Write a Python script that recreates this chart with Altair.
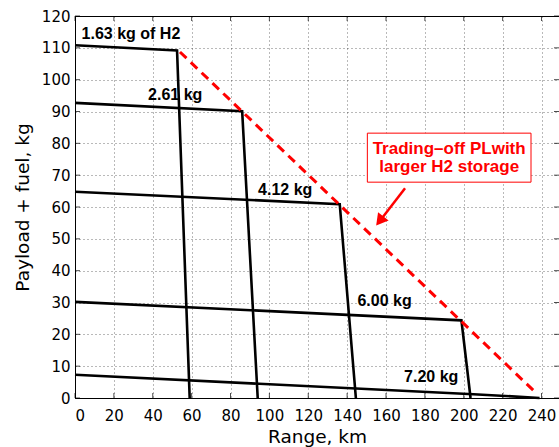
import altair as alt
import pandas as pd

# ---- data ----
curve_names = ["1.63", "2.61", "4.12", "6.00", "7.20"]
curve_x = [[0, 52.5, 59], [0, 86, 94], [0, 136.2, 144.5], [0, 198.8, 203.5], [0, 205, 239]]
curve_y = [[110.8, 109.2, 0], [92.7, 90.1, 0], [64.8, 60.9, 0], [30.2, 24.4, 0], [7.3, 1.2, 0]]

trade_x = [54, 237]
trade_y = [108.7, 1.7]

label_text = ["1.63 kg of H2", "2.61 kg", "4.12 kg", "6.00 kg", "7.20 kg"]
label_x = [3.4, 37.6, 94.2, 145.3, 169.3]
label_y = [114.5, 95.1, 65.3, 30.5, 6.6]

box_x = [150.4, 234.6]
box_y = [67.8, 83.2]
note_lines = ["Trading\u2013off PLwith", "larger H2 storage"]
note_x = [192.5, 192.5]
note_y = [78.3, 72.5]

arrow_x = [169.8, 157.4]
arrow_y = [65.9, 56.1]

x_ticks = list(range(0, 241, 20))
y_ticks = list(range(0, 121, 10))
X_MAX = 249
Y_MAX = 120

FONT = "Liberation Sans"
AXFONT = "DejaVu Sans"

# ---- tables ----
rows = []
for name, xs, ys in zip(curve_names, curve_x, curve_y):
    for i, (xv, yv) in enumerate(zip(xs, ys)):
        rows.append({"curve": name, "i": i, "x": xv, "y": yv})
curves_df = pd.DataFrame(rows)
trade_df = pd.DataFrame({"x": trade_x, "y": trade_y, "i": [0, 1]})
labels_df = pd.DataFrame({"t": label_text, "x": label_x, "y": label_y})
box_df = pd.DataFrame({"x": [box_x[0]], "x2": [box_x[1]], "y": [box_y[0]], "y2": [box_y[1]]})
note_df = pd.DataFrame({"t": note_lines, "x": note_x, "y": note_y})
arrow_df = pd.DataFrame({"x": [arrow_x[0]], "x2": [arrow_x[1]], "y": [arrow_y[0]], "y2": [arrow_y[1]]})
head_df = pd.DataFrame({"x": [arrow_x[1]], "y": [arrow_y[1]]})
xb_df = pd.DataFrame({"x": x_ticks, "y": [0] * len(x_ticks)})
xtop_df = pd.DataFrame({"x": x_ticks, "y": [Y_MAX] * len(x_ticks)})
yl_df = pd.DataFrame({"y": y_ticks, "x": [0] * len(y_ticks)})
yr_df = pd.DataFrame({"y": y_ticks, "x": [X_MAX] * len(y_ticks)})

xscale = alt.Scale(domain=[0, X_MAX], nice=False, zero=False)
yscale = alt.Scale(domain=[0, Y_MAX], nice=False)

axis_common = dict(
    grid=True, ticks=False, labelOverlap=False,
    labelFont=AXFONT, titleFont=AXFONT, labelFontSize=15, titleFontSize=18.5,
    titleFontWeight="normal", labelColor="black", titleColor="black",
    domainColor="black", domainWidth=1,
    gridColor="black", gridOpacity=0.55, gridDash=[1, 3], gridWidth=1,
)

X = alt.X("x:Q", scale=xscale,
          axis=alt.Axis(values=x_ticks, title="Range, km", labelPadding=10, titlePadding=4,
                        **axis_common))
Y = alt.Y("y:Q", scale=yscale,
          axis=alt.Axis(values=y_ticks, title="Payload + fuel, kg", labelPadding=5,
                        titlePadding=9, **axis_common))
X2 = alt.X2("x2:Q")
Y2 = alt.Y2("y2:Q")

curves = alt.Chart(curves_df).mark_line(color="black", strokeWidth=2.6).encode(
    x=X, y=Y, detail="curve:N", order="i:Q")

trade = alt.Chart(trade_df).mark_line(color="#ff0000", strokeWidth=3, strokeDash=[9, 6]).encode(
    x=X, y=Y, order="i:Q")

labels = alt.Chart(labels_df).mark_text(align="left", baseline="middle", fontWeight="bold",
                                        fontSize=16, font=FONT, color="black").encode(
    x=X, y=Y, text="t:N")

box = alt.Chart(box_df).mark_rect(fill="white", stroke="#ff0000", strokeWidth=1).encode(
    x=X, x2=X2, y=Y, y2=Y2)

note = alt.Chart(note_df).mark_text(align="center", baseline="middle", fontWeight="bold",
                                    fontSize=17, font=FONT, color="#ff0000").encode(
    x=X, y=Y, text="t:N")

arrow = alt.Chart(arrow_df).mark_rule(color="#ff0000", strokeWidth=2.5).encode(
    x=X, x2=X2, y=Y, y2=Y2)

head = alt.Chart(head_df).mark_point(shape="triangle", filled=True, color="#ff0000",
                                     size=180, angle=218, opacity=1).encode(x=X, y=Y)

tick_b = alt.Chart(xb_df).mark_tick(orient="vertical", size=5, thickness=1, color="black",
                                    yOffset=-2.5).encode(x=X, y=Y)
tick_t = alt.Chart(xtop_df).mark_tick(orient="vertical", size=5, thickness=1, color="black",
                                      yOffset=2.5).encode(x=X, y=Y)
tick_l = alt.Chart(yl_df).mark_tick(orient="horizontal", size=5, thickness=1, color="black",
                                    xOffset=2.5).encode(x=X, y=Y)
tick_r = alt.Chart(yr_df).mark_tick(orient="horizontal", size=5, thickness=1, color="black",
                                    xOffset=-2.5).encode(x=X, y=Y)

chart = alt.layer(curves, trade, labels, box, note, arrow, head,
                  tick_b, tick_t, tick_l, tick_r).properties(
    width=484, height=382,
    autosize=alt.AutoSizeParams(type="none"),
    padding={"left": 75, "top": 16, "right": 0, "bottom": 49},
    background="white",
).configure_view(stroke="black", strokeWidth=1)

chart.save("out.html", embed_options={"renderer": "svg", "actions": False})
